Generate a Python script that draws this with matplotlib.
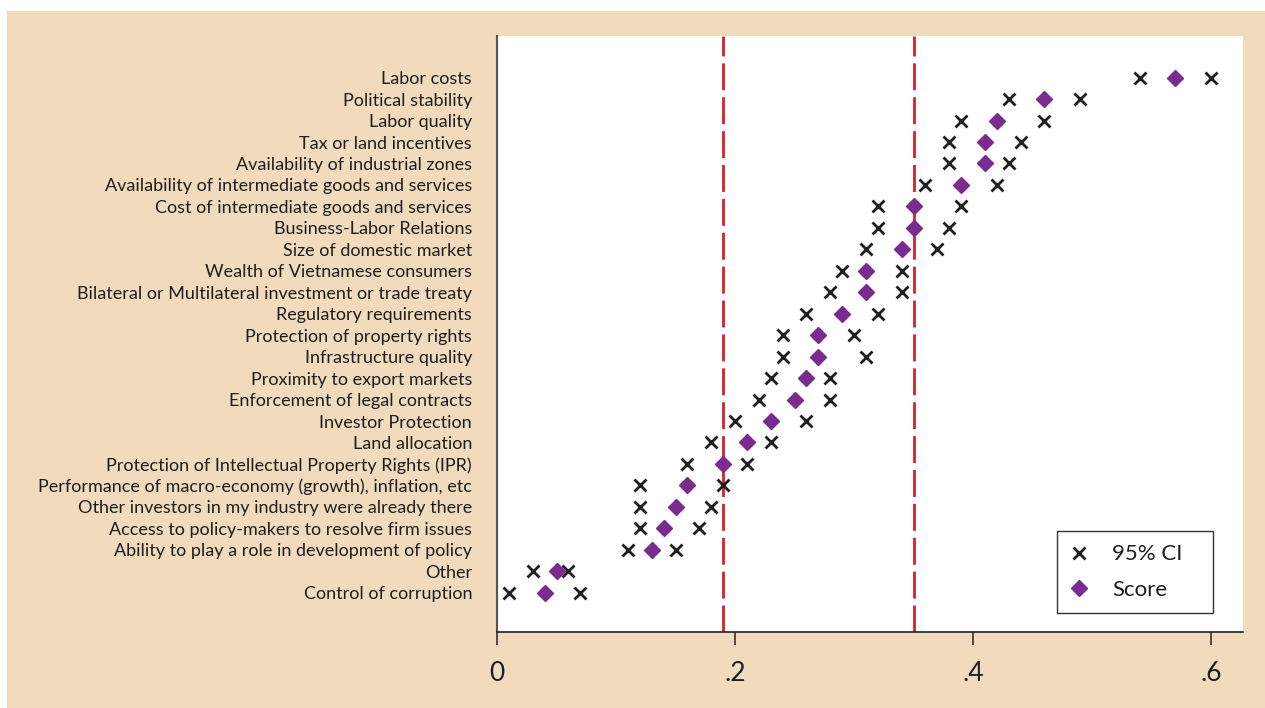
import matplotlib
matplotlib.use('Agg')
import matplotlib.pyplot as plt
from matplotlib.patches import Rectangle

plt.rcParams['font.family'] = ['Lato', 'DejaVu Sans']

# factors, top to bottom
factors = [
  'Labor costs',
  'Political stability',
  'Labor quality',
  'Tax or land incentives',
  'Availability of industrial zones',
  'Availability of intermediate goods and services',
  'Cost of intermediate goods and services',
  'Business-Labor Relations',
  'Size of domestic market',
  'Wealth of Vietnamese consumers',
  'Bilateral or Multilateral investment or trade treaty',
  'Regulatory requirements',
  'Protection of property rights',
  'Infrastructure quality',
  'Proximity to export markets',
  'Enforcement of legal contracts',
  'Investor Protection',
  'Land allocation',
  'Protection of Intellectual Property Rights (IPR)',
  'Performance of macro-economy (growth), inflation, etc',
  'Other investors in my industry were already there',
  'Access to policy-makers to resolve firm issues',
  'Ability to play a role in development of policy',
  'Other',
  'Control of corruption',
]
score = [0.57, 0.46, 0.42, 0.41, 0.41, 0.39, 0.35, 0.35, 0.34, 0.31, 0.31, 0.29, 0.27,
         0.27, 0.26, 0.25, 0.23, 0.21, 0.19, 0.16, 0.15, 0.14, 0.13, 0.05, 0.04]
ci_low = [0.54, 0.43, 0.39, 0.38, 0.38, 0.36, 0.32, 0.32, 0.31, 0.29, 0.28, 0.26, 0.24,
          0.24, 0.23, 0.22, 0.20, 0.18, 0.16, 0.12, 0.12, 0.12, 0.11, 0.03, 0.01]
ci_high = [0.60, 0.49, 0.46, 0.44, 0.43, 0.42, 0.39, 0.38, 0.37, 0.34, 0.34, 0.32, 0.30,
           0.31, 0.28, 0.28, 0.26, 0.23, 0.21, 0.19, 0.18, 0.17, 0.15, 0.06, 0.07]
ref_lines = [0.19, 0.35]
xticks = [0, 0.2, 0.4, 0.6]
xtick_labels = ['0', '.2', '.4', '.6']

beige = '#f1dbbc'
purple = '#7b2b8f'
red = '#d7202b'
ink = '#1e1e1e'

fig = plt.figure(figsize=(12.65, 7.08), dpi=100)
fig.patch.set_facecolor('white')
fig.patches.append(Rectangle((7 / 1265, 0), 1, 1 - 11 / 708, transform=fig.transFigure,
                             facecolor=beige, edgecolor='none', zorder=-10))

ax = fig.add_axes([497 / 1265, 1 - 632 / 708, 746 / 1265, 596 / 708])
ax.set_facecolor('white')

n = len(factors)
ypos = [n - i for i in range(n)]

for xv in ref_lines:
  ax.axvline(xv, color=red, lw=2, dashes=(9.7, 2.5), zorder=1)

ax.plot(ci_low, ypos, 'x', color=ink, ms=8, mew=2, ls='none', zorder=3, label='95% CI')
ax.plot(ci_high, ypos, 'x', color=ink, ms=8, mew=2, ls='none', zorder=3)
ax.plot(score, ypos, 'D', color=purple, ms=8.5, ls='none', zorder=4, label='Score')

ax.set_xlim(0, 746 / 1190)
ax.set_ylim(1 - 1.83, n + 1.94)
ax.set_yticks(ypos)
ax.set_yticklabels(factors, fontsize=13, color=ink)
ax.tick_params(axis='y', length=0, pad=18)
ax.set_xticks(xticks)
ax.set_xticklabels(xtick_labels, fontsize=19, color=ink)
ax.tick_params(axis='x', length=9, width=1.2, color='#333333', pad=12)

ax.spines['top'].set_visible(False)
ax.spines['right'].set_visible(False)
ax.spines['left'].set_color('#555555')
ax.spines['left'].set_linewidth(1.5)
ax.spines['bottom'].set_color('#222222')
ax.spines['bottom'].set_linewidth(1.2)

leg = ax.legend(loc='lower left', bbox_to_anchor=(560 / 746, 0.032, 156 / 746, 0.15),
                mode='expand', borderaxespad=0, fontsize=16, fancybox=False,
                edgecolor='#333333', framealpha=1, handlelength=0.82, handletextpad=1.05,
                borderpad=0.6, labelspacing=0.68)
leg.get_frame().set_linewidth(1.0)
for t in leg.get_texts():
  t.set_color(ink)

plt.savefig('out.png', dpi=100)
